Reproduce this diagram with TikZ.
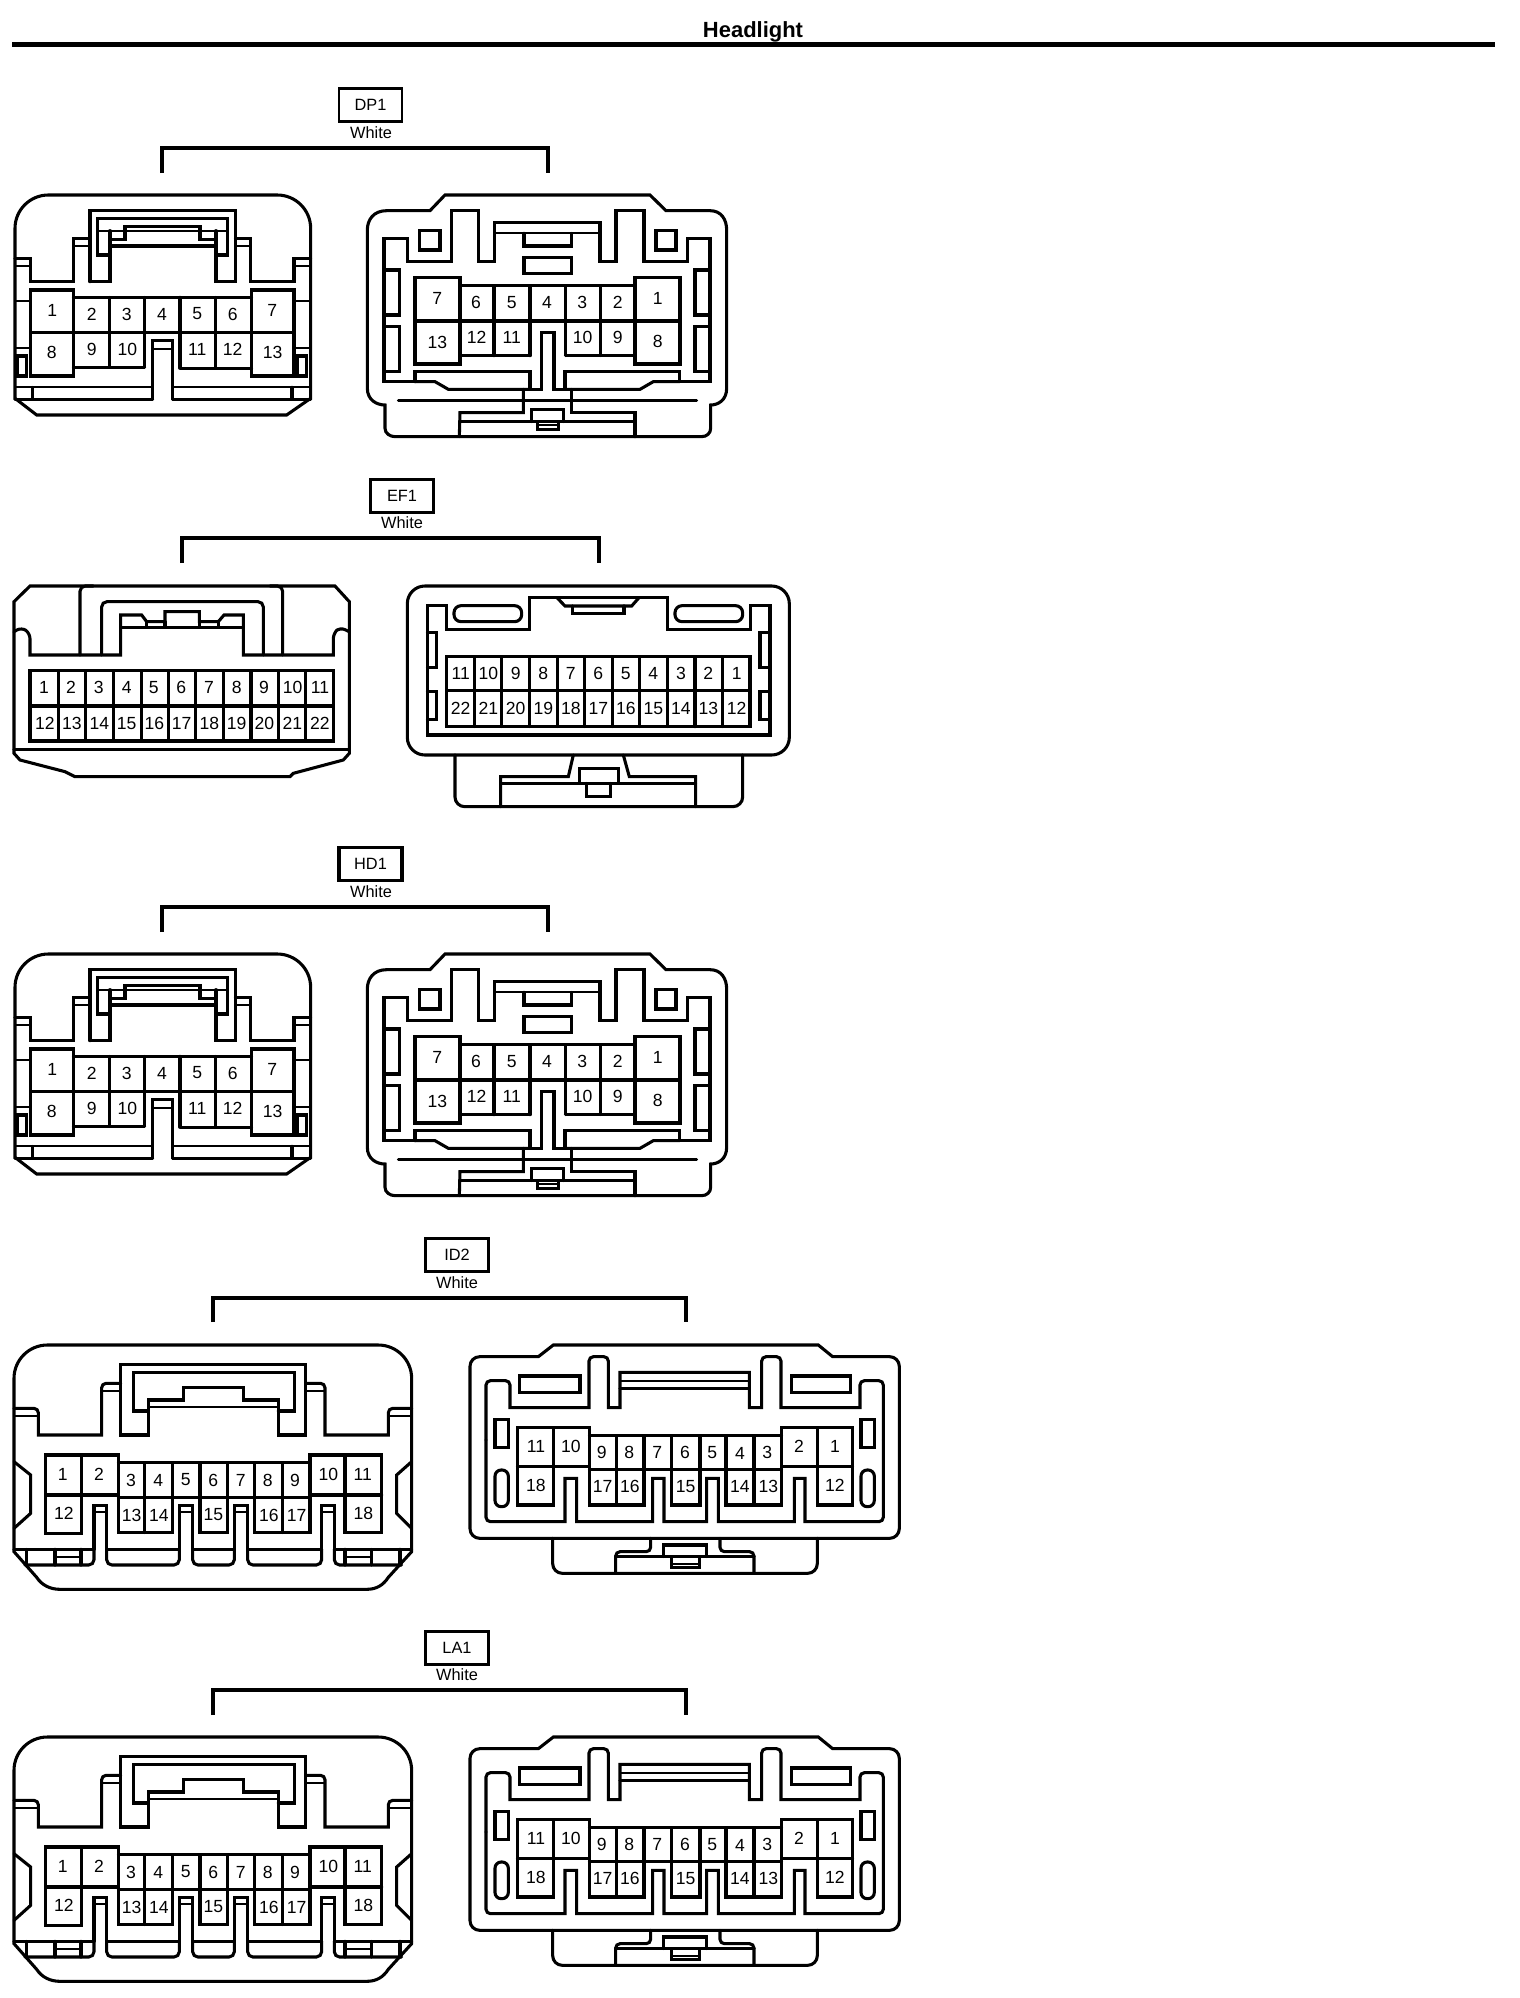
\documentclass[tikz,border=0pt]{standalone}
\usepackage{fontspec}
\setmainfont{Liberation Sans}

\tikzstyle{wall} = [line width=1.75pt, line cap=round]
\tikzstyle{thinwall} = [line width=1.3pt]
\tikzstyle{pinlabel} = [inner sep=0pt, font=\fontsize{10}{10}\selectfont]
\tikzstyle{tagbox} = [rectangle, draw, line width=1.6pt, minimum width=1.26cm,
    minimum height=.65cm, inner sep=0pt, font=\fontsize{9.3}{10}\selectfont]
\tikzstyle{colorlabel} = [inner sep=0pt, font=\fontsize{9.3}{10}\selectfont]
\tikzstyle{bracket} = [line width=1.75pt]
\tikzstyle{zoomed} = [x=.02cm/3, y=-.02cm/3]

% harness halves, local coordinates are thirds of a pixel
\newcommand{\dpleft}[2]{
\begin{scope}[shift={(0,#2)}, zoomed]
	\draw [wall] (45,655) [rounded corners=19pt] -- (45,45) -- (932,45) -- (932,400) [sharp corners] -- (932,655) -- (860,705) -- (110,705) -- cycle;
	%
	\draw [wall] (45,235) -- (92,235) -- (92,305) -- (220,305) -- (220,176) -- (270,176);
	\draw [wall] (932,235) -- (882,235) -- (882,305) -- (752,305) -- (752,176) -- (706,176);
	\draw [thinwall] (45,258) -- (92,258) (882,258) -- (932,258) (220,198) -- (270,198) (706,198) -- (752,198);
	\draw [wall] (270,305) -- (270,92) -- (706,92) -- (706,305) -- (648,305) -- (648,152);
	\draw [wall] (270,305) -- (330,305) -- (330,152);
	\draw [wall] (330,225) -- (293,225) -- (293,115) -- (683,115) -- (683,225) -- (648,225);
	\draw [thinwall] (293,152) -- (683,152);
	\draw [wall] (330,178) -- (375,178) -- (375,140) -- (600,140) -- (600,178) -- (648,178);
	\draw [wall] (330,198) -- (648,198);
	%
	\draw [wall] (92,330) rectangle (220,588);
	\draw [wall] (755,330) rectangle (882,588);
	\draw [wall] (220,352) -- (755,352);
	\draw [wall] (92,458) -- (882,458);
	\draw [wall] (328,352) -- (328,562) (434,352) -- (434,562) (220,562) -- (434,562);
	\draw [wall] (540,352) -- (540,565) (646,352) -- (646,565) (540,565) -- (755,565);
	\draw [thinwall] (45,362) -- (92,362) (882,362) -- (932,362) (45,505) -- (92,505) (882,505) -- (932,505);
	\draw [wall] (52,528) rectangle (80,588);
	\draw [wall] (892,528) rectangle (920,588);
	\draw [wall] (458,658) -- (458,482) -- (518,482) -- (518,658);
	\draw [thinwall] (458,508) -- (518,508);
	\draw [thinwall] (45,622) -- (458,622) (518,622) -- (932,622);
	\draw [wall] (45,658) -- (458,658) (518,658) -- (932,658);
	\draw [wall] (97,622) -- (97,658) (876,622) -- (876,658);
	%
	\node [pinlabel] (#1a) at (157,390) {1};
	\node [pinlabel] (#1b) at (275,402) {2};
	\node [pinlabel] (#1c) at (380,402) {3};
	\node [pinlabel] (#1d) at (486,402) {4};
	\node [pinlabel] (#1e) at (592,402) {5};
	\node [pinlabel] (#1f) at (698,402) {6};
	\node [pinlabel] (#1g) at (817,390) {7};
	\node [pinlabel] (#1h) at (155,518) {8};
	\node [pinlabel] (#1i) at (275,507) {9};
	\node [pinlabel] (#1j) at (382,507) {10};
	\node [pinlabel] (#1k) at (592,507) {11};
	\node [pinlabel] (#1l) at (698,507) {12};
	\node [pinlabel] (#1m) at (818,518) {13};
\end{scope}
}

\newcommand{\dpright}[2]{
\begin{scope}[shift={(360,#2)}, zoomed]
	\draw [wall] (210,92) -- (255,45) -- (870,45) -- (918,92) -- (1050,92) .. controls (1085,92) and (1100,120) .. (1100,150) -- (1100,625) .. controls (1100,660) and (1075,675) .. (1052,675) -- (1052,745) .. controls (1052,760) and (1040,770) .. (1025,770) -- (105,770) .. controls (90,770) and (75,760) .. (75,745) -- (75,675) .. controls (50,675) and (22,660) .. (22,625) -- (22,150) .. controls (22,120) and (40,92) .. (80,92) -- cycle;
	%
	\draw [wall] (165,605) -- (72,605) -- (72,175) -- (143,175) -- (143,245) -- (275,245) -- (275,92) -- (355,92) -- (355,245) -- (403,245) -- (403,128) -- (720,128) -- (720,245) -- (768,245) -- (768,92) -- (852,92) -- (852,245) -- (982,245) -- (982,175) -- (1050,175) -- (1050,605) -- (958,605);
	\draw [wall] (165,605) -- (165,575) -- (510,575) -- (510,628) -- (545,628) -- (545,458) -- (582,458) -- (582,628) -- (615,628) -- (615,575) -- (958,575) -- (958,605);
	\draw [wall] (165,605) -- (225,605) -- (265,628) -- (510,628);
	\draw [wall] (958,605) -- (880,605) -- (840,628) -- (615,628);
	\draw [thinwall] (403,160) -- (720,160);
	\draw [wall] (492,160) -- (492,198) -- (635,198) -- (635,160);
	\draw [wall] (492,232) rectangle (635,280);
	\draw [wall] (178,152) rectangle (240,210);
	\draw [wall] (888,152) rectangle (948,210);
	\draw [wall] (72,270) -- (118,270) -- (118,405) -- (72,405);
	\draw [wall] (72,440) -- (118,440) -- (118,575) -- (72,575);
	\draw [wall] (1050,270) -- (1005,270) -- (1005,405) -- (1050,405);
	\draw [wall] (1050,440) -- (1005,440) -- (1005,575) -- (1050,575);
	%
	\draw [wall] (165,293) rectangle (300,552);
	\draw [wall] (825,293) rectangle (960,552);
	\draw [wall] (300,317) -- (825,317);
	\draw [wall] (165,423) -- (960,423);
	\draw [wall] (402,317) -- (402,527) (510,317) -- (510,527) (300,527) -- (510,527);
	\draw [wall] (616,317) -- (616,527) (722,317) -- (722,527) (616,527) -- (825,527);
	%
	\draw [wall] (115,662) -- (1010,662);
	\draw [wall] (490,628) -- (490,698) -- (300,698) -- (298,770);
	\draw [wall] (635,628) -- (635,698) -- (825,698) -- (825,770);
	\draw [wall] (300,725) -- (825,725);
	\draw [wall] (515,725) -- (515,688) -- (610,688) -- (610,725);
	\draw [wall] (532,725) -- (532,748) -- (595,748) -- (595,725);
	\draw [thinwall] (532,735) -- (595,735);
	%
	\node [pinlabel] (#1a) at (232,355) {7};
	\node [pinlabel] (#1b) at (348,368) {6};
	\node [pinlabel] (#1c) at (455,368) {5};
	\node [pinlabel] (#1d) at (561,368) {4};
	\node [pinlabel] (#1e) at (667,368) {3};
	\node [pinlabel] (#1f) at (773,368) {2};
	\node [pinlabel] (#1g) at (893,355) {1};
	\node [pinlabel] (#1h) at (232,487) {13};
	\node [pinlabel] (#1i) at (350,473) {12};
	\node [pinlabel] (#1j) at (455,473) {11};
	\node [pinlabel] (#1k) at (668,473) {10};
	\node [pinlabel] (#1l) at (773,473) {9};
	\node [pinlabel] (#1m) at (893,485) {8};
\end{scope}
}

\newcommand{\idleft}[2]{
\begin{scope}[shift={(0,#2)}, zoomed]
	\draw [wall] (42,635) [rounded corners=19pt] -- (42,15) -- (1235,15) -- (1235,400) [sharp corners] -- (1235,635) -- (1165,712) .. controls (1150,735) and (1130,748) .. (1100,748) -- (180,748) .. controls (150,748) and (125,735) .. (110,712) -- cycle;
	%
	\draw [wall] (42,205) [rounded corners=2.5pt] -- (115,205) -- (115,250) [sharp corners] -- (115,285) -- (305,285) -- (305,200) [rounded corners=2.5pt] -- (305,130) -- (362,130);
	\draw [wall] (1235,205) [rounded corners=2.5pt] -- (1165,205) -- (1165,250) [sharp corners] -- (1165,285) -- (975,285) -- (975,200) [rounded corners=2.5pt] -- (975,130) -- (917,130);
	\draw [thinwall] (42,228) -- (115,228) (1165,228) -- (1235,228) (305,152) -- (362,152) (917,152) -- (975,152);
	\draw [wall] (362,285) -- (362,73) -- (917,73) -- (917,285) -- (835,285) -- (835,180) -- (730,180) -- (730,143) -- (550,143) -- (550,180) -- (445,180) -- (445,285) -- cycle;
	\draw [wall] (445,213) -- (400,213) -- (400,97) -- (883,97) -- (883,213) -- (835,213);
	\draw [thinwall] (445,202) -- (835,202);
	\draw [wall] (42,365) -- (92,405) -- (92,520) -- (42,565);
	\draw [wall] (1235,365) -- (1190,405) -- (1190,520) -- (1235,565);
	%
	\draw [wall] (137,465) -- (137,345) -- (355,345) -- (355,578) -- (517,578) -- (517,368);
	\draw [wall] (137,465) -- (137,580) -- (245,580) -- (245,345);
	\draw [wall] (137,465) -- (355,465);
	\draw [wall] (355,368) -- (930,368);
	\draw [wall] (355,472) -- (930,472);
	\draw [wall] (433,368) -- (433,578);
	\draw [wall] (600,368) -- (600,578) -- (683,578) -- (683,368);
	\draw [wall] (763,368) -- (763,578) -- (930,578) -- (930,345) -- (1145,345) -- (1145,578) -- (1035,578) -- (1035,345);
	\draw [wall] (848,368) -- (848,578);
	\draw [wall] (930,465) -- (1145,465);
	%
	\draw [wall] (282,628) -- (282,497) -- (320,497) -- (320,628);
	\draw [wall] (538,628) -- (538,497) -- (578,497) -- (578,628);
	\draw [wall] (703,628) -- (703,497) -- (743,497) -- (743,628);
	\draw [wall] (965,628) -- (965,497) -- (1003,497) -- (1003,628);
	\draw [thinwall] (282,515) -- (320,515) (538,515) -- (578,515) (703,515) -- (743,515) (965,515) -- (1003,515);
	\draw [wall] (42,628) -- (282,628) (320,628) -- (538,628) (578,628) -- (703,628) (743,628) -- (965,628) (1003,628) -- (1235,628);
	\draw [wall, rounded corners=3pt] (75,675) -- (282,675) -- (282,628);
	\draw [wall, rounded corners=3pt] (320,628) -- (320,675) -- (538,675) -- (538,628);
	\draw [wall, rounded corners=3pt] (578,628) -- (578,675) -- (703,675) -- (703,628);
	\draw [wall, rounded corners=3pt] (743,628) -- (743,675) -- (965,675) -- (965,628);
	\draw [wall, rounded corners=3pt] (1003,628) -- (1003,675) -- (1205,675);
	\draw [wall] (80,628) -- (80,675) (165,628) -- (165,675) (243,628) -- (243,675);
	\draw [wall] (1035,628) -- (1035,675) (1115,628) -- (1115,675) (1200,628) -- (1200,675);
	\draw [thinwall] (165,650) -- (243,650) (1035,650) -- (1115,650);
	%
	\node [pinlabel] (#1a) at (188,402) {1};
	\node [pinlabel] (#1b) at (297,402) {2};
	\node [pinlabel] (#1c) at (393,422) {3};
	\node [pinlabel] (#1d) at (475,422) {4};
	\node [pinlabel] (#1e) at (557,420) {5};
	\node [pinlabel] (#1f) at (640,420) {6};
	\node [pinlabel] (#1g) at (722,420) {7};
	\node [pinlabel] (#1h) at (803,422) {8};
	\node [pinlabel] (#1i) at (885,422) {9};
	\node [pinlabel] (#1j) at (985,402) {10};
	\node [pinlabel] (#1k) at (1088,402) {11};
	\node [pinlabel] (#1l) at (192,520) {12};
	\node [pinlabel] (#1m) at (395,525) {13};
	\node [pinlabel] (#1n) at (477,525) {14};
	\node [pinlabel] (#1o) at (640,525) {15};
	\node [pinlabel] (#1p) at (807,525) {16};
	\node [pinlabel] (#1q) at (890,525) {17};
	\node [pinlabel] (#1r) at (1090,520) {18};
\end{scope}
}

\newcommand{\idright}[2]{
\begin{scope}[shift={(460,#2)}, zoomed]
	\draw [wall] (235,50) -- (280,15) -- (1075,15) -- (1118,50) [rounded corners=5.5pt] -- (1318,50) -- (1318,595) -- (30,595) -- (30,50) -- (150,50) [sharp corners] -- cycle;
	%
	\draw [wall, rounded corners=2.5pt] (78,300) -- (78,122) -- (150,122) [sharp corners] -- (150,203) -- (387,203) [rounded corners=2.5pt] -- (387,50) -- (445,50) [sharp corners] -- (445,203) -- (480,203) -- (480,97) -- (868,97) -- (868,203) -- (905,203) [rounded corners=2.5pt] -- (905,50) -- (963,50) [sharp corners] -- (963,203) -- (1200,203) [rounded corners=2.5pt] -- (1200,122) -- (1270,122) -- (1270,300);
	\draw [wall, rounded corners=2.5pt] (78,300) -- (78,545) -- (200,545) [sharp corners] -- (315,545) -- (315,415) -- (350,415) -- (350,545) -- (578,545) -- (578,415) -- (612,415) -- (612,545) -- (740,545) -- (740,415) -- (775,415) -- (775,545) -- (1003,545) -- (1003,415) -- (1035,415) -- (1035,545) -- (1200,545) [rounded corners=2.5pt] -- (1270,545) -- (1270,300);
	\draw [thinwall] (480,122) -- (868,122);
	\draw [wall] (480,145) -- (868,145);
	\draw [wall] (178,108) rectangle (360,157);
	\draw [wall] (995,108) rectangle (1172,157);
	\draw [wall] (105,238) rectangle (145,322);
	\draw [wall] (1203,238) rectangle (1243,322);
	\draw [wall, rounded corners=3.5pt] (105,390) rectangle (145,500);
	\draw [wall, rounded corners=3.5pt] (1203,390) rectangle (1243,500);
	%
	\draw [wall] (172,380) -- (172,263) -- (388,263) -- (388,495) -- (552,495) -- (552,287);
	\draw [wall] (172,380) -- (172,495) -- (280,495) -- (280,263);
	\draw [wall] (172,380) -- (388,380);
	\draw [wall] (388,287) -- (965,287);
	\draw [wall] (388,388) -- (965,388);
	\draw [wall] (470,287) -- (470,495);
	\draw [wall] (635,287) -- (635,495) -- (720,495) -- (720,287);
	\draw [wall] (798,287) -- (798,495) -- (965,495) -- (965,263) -- (1178,263) -- (1178,495) -- (1072,495) -- (1072,263);
	\draw [wall] (882,287) -- (882,495);
	\draw [wall] (965,380) -- (1178,380);
	%
	\draw [wall, rounded corners=5.5pt] (278,595) -- (278,700) -- (1072,700) -- (1072,595);
	\draw [wall, rounded corners=2.5pt] (572,595) -- (572,635) -- (467,635) -- (467,700);
	\draw [wall, rounded corners=2.5pt] (780,595) -- (780,635) -- (882,635) -- (882,700);
	\draw [wall] (467,650) -- (882,650);
	\draw [wall] (610,650) -- (610,615) -- (740,615) -- (740,650);
	\draw [wall] (635,650) -- (635,682) -- (718,682) -- (718,650);
	\draw [thinwall] (635,672) -- (718,672);
	%
	\node [pinlabel] (#1a) at (228,320) {11};
	\node [pinlabel] (#1b) at (333,320) {10};
	\node [pinlabel] (#1c) at (425,338) {9};
	\node [pinlabel] (#1d) at (508,338) {8};
	\node [pinlabel] (#1e) at (592,337) {7};
	\node [pinlabel] (#1f) at (675,337) {6};
	\node [pinlabel] (#1g) at (757,337) {5};
	\node [pinlabel] (#1h) at (840,340) {4};
	\node [pinlabel] (#1i) at (922,337) {3};
	\node [pinlabel] (#1j) at (1017,320) {2};
	\node [pinlabel] (#1k) at (1125,320) {1};
	\node [pinlabel] (#1l) at (228,437) {18};
	\node [pinlabel] (#1m) at (428,440) {17};
	\node [pinlabel] (#1n) at (510,440) {16};
	\node [pinlabel] (#1o) at (677,440) {15};
	\node [pinlabel] (#1p) at (840,440) {14};
	\node [pinlabel] (#1q) at (925,440) {13};
	\node [pinlabel] (#1r) at (1125,437) {12};
\end{scope}
}

\begin{document}
\begin{tikzpicture}[x=.02cm, y=-.02cm]
	\useasboundingbox (0,0) rectangle (1520,1998);
	\node [inner sep=0pt, font=\fontsize{12.5}{13}\bfseries\selectfont] (title) at (753,32) {Headlight};
	\coordinate (rulea) at (12,44.5);
	\coordinate (ruleb) at (1495,44.5);
	\draw [line width=2.8pt] (rulea) -- (ruleb);
	%
	\node [tagbox] (dptag) at (370.5,105) {DP1};
	\node [colorlabel] (dpcolor) at (371,133) {White};
	\coordinate (dptop) at (355,148);
	\coordinate (dpa) at (162,173);
	\coordinate (dpb) at (548,173);
	\draw [bracket] (dpa) |- (dptop) -| (dpb);
	\dpleft{dpl}{180}
	\dpright{dpr}{180}
	%
	\begin{scope}[shift={(0,580)}, zoomed]
		\draw [wall] (90,18) -- (1005,18) -- (1048,65) -- (1048,520) -- (1030,540) -- (880,580) -- (870,590) -- (225,590) -- (195,575) -- (60,540) -- (42,520) -- (42,65) -- cycle;
		%
		\draw [wall, rounded corners=3pt] (42,155) -- (65,142) -- (90,160) [sharp corners] -- (90,225) -- (362,225) -- (362,105) -- (425,105) -- (440,125) -- (495,125) -- (495,95) -- (598,95) -- (598,125) -- (655,125) -- (672,105) -- (730,105) -- (730,225) -- (1000,225) [rounded corners=3pt] -- (1000,160) -- (1020,142) -- (1048,155);
		\draw [wall, rounded corners=3pt] (240,225) -- (240,18) -- (280,18);
		\draw [wall, rounded corners=3pt] (848,225) -- (848,18) -- (810,18);
		\draw [wall, rounded corners=3pt] (305,225) -- (305,65) -- (790,65) -- (790,225);
		\draw [wall] (362,142) -- (730,142);
		\draw [wall] (440,125) -- (440,142) (495,125) -- (495,142) (598,125) -- (598,142) (655,125) -- (655,142);
		%
		\draw [wall] (90,272) rectangle (1000,483);
		\draw [wall] (90,378) -- (1000,378);
		\draw [wall] (175,272) -- (175,483) (256,272) -- (256,483) (340,272) -- (340,483) (424,272) -- (424,483) (505,272) -- (505,483);
		\draw [wall] (587,272) -- (587,483) (670,272) -- (670,483) (753,272) -- (753,483) (835,272) -- (835,483) (916,272) -- (916,483);
		\draw [wall] (42,508) -- (1048,508);
		%
		\node [pinlabel] (efla) at (132,322) {1};
		\node [pinlabel] (eflb) at (213,322) {2};
		\node [pinlabel] (eflc) at (296,322) {3};
		\node [pinlabel] (efld) at (380,322) {4};
		\node [pinlabel] (efle) at (461,322) {5};
		\node [pinlabel] (eflf) at (544,322) {6};
		\node [pinlabel] (eflg) at (627,322) {7};
		\node [pinlabel] (eflh) at (710,322) {8};
		\node [pinlabel] (efli) at (792,322) {9};
		\node [pinlabel] (eflj) at (878,322) {10};
		\node [pinlabel] (eflk) at (960,322) {11};
		\node [pinlabel] (efll) at (135,430) {12};
		\node [pinlabel] (eflm) at (216,430) {13};
		\node [pinlabel] (efln) at (298,430) {14};
		\node [pinlabel] (eflo) at (380,430) {15};
		\node [pinlabel] (eflp) at (463,430) {16};
		\node [pinlabel] (eflq) at (545,430) {17};
		\node [pinlabel] (eflr) at (628,430) {18};
		\node [pinlabel] (efls) at (710,430) {19};
		\node [pinlabel] (eflt) at (793,430) {20};
		\node [pinlabel] (eflu) at (877,430) {21};
		\node [pinlabel] (eflv) at (960,430) {22};
	\end{scope}
	%
	\begin{scope}[shift={(400,580)}, zoomed]
		\draw [wall, rounded corners=10pt] (22,18) rectangle (1168,525);
		%
		\draw [wall] (82,77) -- (140,77) -- (140,148) -- (388,148) -- (388,52) -- (803,52) -- (803,148) -- (1052,148) -- (1052,77) -- (1110,77) -- (1110,465) -- (82,465) -- cycle;
		\draw [wall, rounded corners=4pt] (162,77) rectangle (365,125);
		\draw [wall, rounded corners=4pt] (825,77) rectangle (1028,125);
		\draw [wall] (470,52) -- (495,78) -- (695,78) -- (718,52);
		\draw [wall] (518,78) -- (518,100) -- (672,100) -- (672,78);
		\draw [wall] (82,157) -- (110,157) -- (110,263) -- (82,263);
		\draw [wall] (82,335) -- (110,335) -- (110,418) -- (82,418);
		\draw [wall] (1110,157) -- (1080,157) -- (1080,263) -- (1110,263);
		\draw [wall] (1110,335) -- (1080,335) -- (1080,418) -- (1110,418);
		%
		\draw [wall] (140,230) rectangle (1050,440);
		\draw [wall] (140,332) -- (1050,332);
		\draw [wall] (223,230) -- (223,440) (305,230) -- (305,440) (388,230) -- (388,440) (472,230) -- (472,440) (553,230) -- (553,440);
		\draw [wall] (637,230) -- (637,440) (718,230) -- (718,440) (802,230) -- (802,440) (885,230) -- (885,440) (967,230) -- (967,440);
		%
		\draw [wall, rounded corners=5.5pt] (165,525) -- (165,680) -- (1028,680) -- (1028,525);
		\draw [wall] (520,525) -- (505,590) -- (302,590) -- (302,680);
		\draw [wall] (670,525) -- (688,590) -- (887,590) -- (887,680);
		\draw [wall] (302,610) -- (887,610);
		\draw [wall] (538,610) -- (538,566) -- (655,566) -- (655,610);
		\draw [wall] (560,610) -- (560,650) -- (632,650) -- (632,610);
		%
		\node [pinlabel] (efra) at (182,280) {11};
		\node [pinlabel] (efrb) at (265,280) {10};
		\node [pinlabel] (efrc) at (347,280) {9};
		\node [pinlabel] (efrd) at (430,280) {8};
		\node [pinlabel] (efre) at (512,280) {7};
		\node [pinlabel] (efrf) at (595,280) {6};
		\node [pinlabel] (efrg) at (677,280) {5};
		\node [pinlabel] (efrh) at (760,280) {4};
		\node [pinlabel] (efri) at (843,280) {3};
		\node [pinlabel] (efrj) at (925,280) {2};
		\node [pinlabel] (efrk) at (1010,280) {1};
		\node [pinlabel] (efrl) at (182,385) {22};
		\node [pinlabel] (efrm) at (265,385) {21};
		\node [pinlabel] (efrn) at (347,385) {20};
		\node [pinlabel] (efro) at (430,385) {19};
		\node [pinlabel] (efrp) at (513,385) {18};
		\node [pinlabel] (efrq) at (595,385) {17};
		\node [pinlabel] (efrr) at (678,385) {16};
		\node [pinlabel] (efrs) at (760,385) {15};
		\node [pinlabel] (efrt) at (843,385) {14};
		\node [pinlabel] (efru) at (925,385) {13};
		\node [pinlabel] (efrv) at (1010,385) {12};
	\end{scope}
	%
	\node [tagbox] (eftag) at (402,496) {EF1};
	\node [colorlabel] (efcolor) at (402,523) {White};
	\coordinate (eftop) at (390,538);
	\coordinate (efa) at (182,563);
	\coordinate (efb) at (599,563);
	\draw [bracket] (efa) |- (eftop) -| (efb);
	%
	\node [tagbox, line width=1.9pt] (hdtag) at (370.5,864) {HD1};
	\node [colorlabel] (hdcolor) at (371,892) {White};
	\coordinate (hdtop) at (355,907);
	\coordinate (hda) at (162,932);
	\coordinate (hdb) at (548,932);
	\draw [bracket] (hda) |- (hdtop) -| (hdb);
	\dpleft{hdl}{939}
	\dpright{hdr}{939}
	%
	\node [tagbox] (idtag) at (457,1255) {ID2};
	\node [colorlabel] (idcolor) at (457,1283) {White};
	\coordinate (idtop) at (450,1298);
	\coordinate (ida) at (213,1322);
	\coordinate (idb) at (686,1322);
	\draw [bracket] (ida) |- (idtop) -| (idb);
	\idleft{idl}{1340}
	\idright{idr}{1340}
	%
	\node [tagbox] (latag) at (457,1648) {LA1};
	\node [colorlabel] (lacolor) at (457,1675) {White};
	\coordinate (latop) at (450,1690);
	\coordinate (laa) at (213,1715);
	\coordinate (lab) at (686,1715);
	\draw [bracket] (laa) |- (latop) -| (lab);
	\idleft{lal}{1732}
	\idright{lar}{1732}
\end{tikzpicture}
\end{document}
